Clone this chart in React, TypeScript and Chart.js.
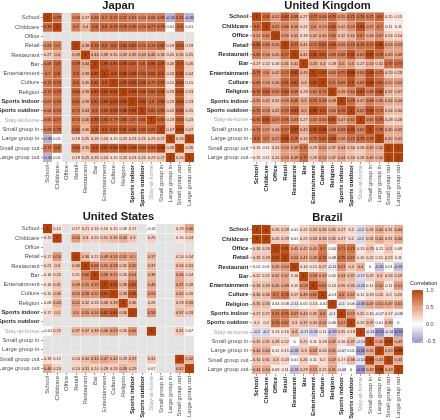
import React, { useEffect, useRef } from "react";
import { Chart, registerables } from "chart.js";

Chart.register(...registerables);

const FONT = '"Liberation Sans", Arial, Helvetica, sans-serif';

const categories = [
  "School", "Childcare", "Office", "Retail", "Restaurant", "Bar", "Entertainment",
  "Culture", "Religion", "Sports indoor", "Sports outdoor", "Stay-at-home",
  "Small group in", "Large group in", "Small group out", "Large group out",
];

const N = null;

const japanValues: (number | null)[][] = [
  [1, 0.79, N, 0.63, 0.27, 0.68, 0.7, 0.72, 0.72, 0.67, 0.64, 0.66, 0.69, -0.36, 0.71, -0.36],
  [0.79, 1, N, 0.7, 0.4, 0.8, 0.8, 0.79, 0.79, 0.76, 0.74, 0.77, 0.79, 0.01, 0.8, 0.01],
  [N, N, N, N, N, N, N, N, N, N, N, N, N, N, N, N],
  [0.63, 0.7, N, 1, 0.39, 0.79, 0.8, 0.8, 0.83, 0.82, 0.75, 0.74, 0.82, 0.19, 0.83, 0.19],
  [0.27, 0.4, N, 0.39, 1, 0.44, 0.39, 0.35, 0.39, 0.39, 0.43, 0.46, 0.36, 0.25, 0.35, 0.25],
  [0.68, 0.8, N, 0.79, 0.44, 1, 0.89, 0.85, 0.89, 0.85, 0.8, 0.88, 0.9, 0.26, 0.9, 0.26],
  [0.7, 0.8, N, 0.8, 0.39, 0.89, 1, 0.9, 0.93, 0.89, 0.84, 0.84, 0.9, 0.24, 0.91, 0.24],
  [0.72, 0.79, N, 0.8, 0.35, 0.85, 0.9, 1, 0.91, 0.92, 0.88, 0.79, 0.87, 0.15, 0.88, 0.15],
  [0.72, 0.79, N, 0.83, 0.39, 0.89, 0.93, 0.91, 1, 0.93, 0.88, 0.84, 0.91, 0.23, 0.92, 0.23],
  [0.67, 0.76, N, 0.82, 0.39, 0.85, 0.89, 0.92, 0.93, 1, 0.93, 0.8, 0.88, 0.23, 0.89, 0.23],
  [0.64, 0.74, N, 0.75, 0.43, 0.8, 0.84, 0.88, 0.88, 0.93, 1, 0.81, 0.83, 0.25, 0.84, 0.25],
  [0.66, 0.77, N, 0.74, 0.46, 0.88, 0.84, 0.79, 0.84, 0.8, 0.81, 1, 0.83, 0.23, 0.83, 0.23],
  [0.69, 0.79, N, 0.82, 0.36, 0.9, 0.9, 0.87, 0.91, 0.88, 0.83, 0.83, 1, 0.27, 0.99, 0.27],
  [-0.36, 0.01, N, 0.19, 0.25, 0.26, 0.24, 0.15, 0.23, 0.23, 0.25, 0.23, 0.27, 1, 0.26, 1],
  [0.71, 0.8, N, 0.83, 0.35, 0.9, 0.91, 0.88, 0.92, 0.89, 0.84, 0.83, 0.99, 0.26, 1, 0.26],
  [-0.36, 0.01, N, 0.19, 0.25, 0.26, 0.24, 0.15, 0.23, 0.23, 0.25, 0.23, 0.27, 1, 0.26, 1],
];

const ukValues: (number | null)[][] = [
  [1, 0.8, 0.51, 0.84, 0.69, 0.27, 0.77, 0.69, 0.79, 0.55, 0.75, 0.76, 0.71, 0.8, 0.15, 0.15],
  [0.8, 1, 0.61, 0.66, 0.56, 0.22, 0.6, 0.53, 0.82, 0.42, 0.59, 0.91, 0.57, 0.7, 0.11, 0.11],
  [0.51, 0.61, 1, 0.55, 0.45, 0.18, 0.42, 0.46, 0.65, 0.32, 0.42, 0.67, 0.44, 0.57, 0.24, 0.24],
  [0.84, 0.66, 0.55, 1, 0.77, 0.41, 0.72, 0.81, 0.84, 0.59, 0.73, 0.76, 0.77, 0.96, 0.53, 0.53],
  [0.69, 0.56, 0.45, 0.77, 1, 0.41, 0.92, 0.87, 0.69, 0.68, 0.91, 0.63, 0.97, 0.79, 0.49, 0.49],
  [0.27, 0.22, 0.18, 0.41, 0.41, 1, 0.43, 0.4, 0.28, 0.5, 0.5, 0.27, 0.42, 0.32, 0.77, 0.77],
  [0.77, 0.6, 0.42, 0.72, 0.92, 0.43, 1, 0.92, 0.65, 0.75, 0.98, 0.63, 0.93, 0.75, 0.29, 0.29],
  [0.69, 0.53, 0.46, 0.81, 0.87, 0.4, 0.92, 1, 0.71, 0.69, 0.9, 0.64, 0.96, 0.81, 0.52, 0.52],
  [0.79, 0.82, 0.65, 0.84, 0.69, 0.28, 0.65, 0.71, 1, 0.49, 0.64, 0.91, 0.68, 0.88, 0.37, 0.37],
  [0.55, 0.42, 0.32, 0.59, 0.68, 0.5, 0.75, 0.69, 0.49, 1, 0.78, 0.47, 0.69, 0.56, 0.44, 0.44],
  [0.75, 0.59, 0.42, 0.73, 0.91, 0.5, 0.98, 0.9, 0.64, 0.78, 1, 0.62, 0.92, 0.73, 0.34, 0.34],
  [0.76, 0.91, 0.67, 0.76, 0.63, 0.27, 0.63, 0.64, 0.91, 0.47, 0.62, 1, 0.65, 0.79, 0.28, 0.28],
  [0.71, 0.57, 0.44, 0.77, 0.97, 0.42, 0.93, 0.96, 0.68, 0.69, 0.92, 0.65, 1, 0.78, 0.45, 0.45],
  [0.8, 0.7, 0.57, 0.96, 0.79, 0.32, 0.75, 0.81, 0.88, 0.56, 0.73, 0.79, 0.78, 1, 0.42, 0.42],
  [0.15, 0.11, 0.24, 0.53, 0.49, 0.77, 0.29, 0.52, 0.37, 0.44, 0.34, 0.28, 0.45, 0.42, 1, 1],
  [0.15, 0.11, 0.24, 0.53, 0.49, 0.77, 0.29, 0.52, 0.37, 0.44, 0.34, 0.28, 0.45, 0.42, 1, 1],
];

const usValues: (number | null)[][] = [
  [1, 0.15, N, 0.17, 0.21, 0.16, 0.16, 0.15, 0.08, 0.17, N, -0.01, N, N, 0.19, 0.46],
  [0.15, 1, N, 0.54, 0.3, 0.25, 0.31, 0.36, 0.43, 0.3, N, 0.25, N, N, 0.15, 0.24],
  [N, N, N, N, N, N, N, N, N, N, N, N, N, N, N, N],
  [0.17, 0.54, N, 1, 0.36, 0.21, 0.49, 0.53, 0.52, 0.5, N, 0.37, N, N, 0.24, 0.24],
  [0.21, 0.3, N, 0.36, 1, 0.66, 0.55, 0.58, 0.32, 0.55, N, 0.37, N, N, 0.34, 0.31],
  [0.16, 0.25, N, 0.21, 0.66, 1, 0.59, 0.55, 0.26, 0.54, N, 0.38, N, N, 0.44, 0.24],
  [0.16, 0.31, N, 0.49, 0.55, 0.59, 1, 0.91, 0.38, 0.82, N, 0.46, N, N, 0.47, 0.28],
  [0.15, 0.36, N, 0.53, 0.58, 0.55, 0.91, 1, 0.39, 0.86, N, 0.53, N, N, 0.42, 0.26],
  [0.08, 0.43, N, 0.52, 0.32, 0.26, 0.38, 0.39, 1, 0.36, N, 0.26, N, N, 0.29, 0.39],
  [0.17, 0.3, N, 0.5, 0.55, 0.54, 0.82, 0.86, 0.36, 1, N, 0.56, N, N, 0.37, 0.29],
  [N, N, N, N, N, N, N, N, N, N, N, N, N, N, N, N],
  [-0.01, 0.25, N, 0.37, 0.37, 0.38, 0.46, 0.53, 0.26, 0.56, N, 1, N, N, 0.31, 0.07],
  [N, N, N, N, N, N, N, N, N, N, N, N, N, N, N, N],
  [N, N, N, N, N, N, N, N, N, N, N, N, N, N, N, N],
  [0.19, 0.15, N, 0.24, 0.34, 0.44, 0.47, 0.42, 0.29, 0.37, N, 0.31, N, N, 1, 0.42],
  [0.46, 0.24, N, 0.24, 0.31, 0.24, 0.28, 0.26, 0.39, 0.29, N, 0.07, N, N, 0.42, 1],
];

const brazilValues: (number | null)[][] = [
  [1, 1, 0.26, 0.29, 0.01, 0.22, 0.33, 0.36, 0.35, 0.27, 0.2, -0.2, 0.31, 0.44, 0.31, 0.44],
  [1, 1, 0.26, 0.29, 0.01, 0.22, 0.33, 0.36, 0.35, 0.27, 0.2, -0.2, 0.31, 0.44, 0.31, 0.44],
  [0.26, 0.26, 1, 0.91, 0.45, 0.42, 0.45, 0.7, 0.04, 0.71, 0.73, 0.13, 0.29, 0.11, 0.3, 0.09],
  [0.29, 0.29, 0.91, 1, 0.54, 0.47, 0.49, 0.76, 0.08, 0.75, 0.67, 0.16, 0.22, 0.15, 0.23, 0.11],
  [0.01, 0.01, 0.45, 0.54, 1, 0.16, 0.15, 0.27, -0.11, 0.57, 0.3, 0.4, 0, -0.31, 0.01, -0.31],
  [0.22, 0.22, 0.42, 0.47, 0.16, 1, 0.59, 0.49, 0.05, 0.43, 0.37, -0.17, 0.25, 0.3, 0.26, 0.29],
  [0.33, 0.33, 0.45, 0.49, 0.15, 0.59, 1, 0.65, 0.13, 0.35, 0.33, -0.24, 0.11, 0.52, 0.11, 0.51],
  [0.36, 0.36, 0.7, 0.76, 0.27, 0.49, 0.65, 1, -0.01, 0.6, 0.52, 0.11, 0.19, 0.26, 0.2, 0.25],
  [0.35, 0.35, 0.04, 0.08, -0.11, 0.05, 0.13, -0.01, 1, -0.1, 0.06, -0.33, 0.47, 0.51, 0.47, 0.51],
  [0.27, 0.27, 0.71, 0.75, 0.57, 0.43, 0.35, 0.6, -0.1, 1, 0.57, 0.25, 0.16, -0.07, 0.17, -0.08],
  [0.2, 0.2, 0.73, 0.67, 0.3, 0.37, 0.33, 0.52, 0.06, 0.57, 1, 0.19, 0.37, 0.01, 0.38, 0],
  [-0.2, -0.2, 0.13, 0.16, 0.4, -0.17, -0.24, 0.11, -0.33, 0.25, 0.19, 1, -0.14, -0.52, -0.14, -0.53],
  [0.31, 0.31, 0.29, 0.22, 0, 0.25, 0.11, 0.19, 0.47, 0.16, 0.37, -0.14, 1, 0.45, 0.99, 0.43],
  [0.44, 0.44, 0.11, 0.15, -0.31, 0.3, 0.52, 0.26, 0.51, -0.07, 0.01, -0.52, 0.45, 1, 0.43, 0.98],
  [0.31, 0.31, 0.3, 0.23, 0.01, 0.26, 0.11, 0.2, 0.47, 0.17, 0.38, -0.14, 0.99, 0.43, 1, 0.43],
  [0.44, 0.44, 0.09, 0.11, -0.31, 0.29, 0.51, 0.25, 0.51, -0.08, 0, -0.53, 0.43, 0.98, 0.43, 1],
];

const legendTicks = [1.0, 0.5, 0.0, -0.5];
const legendTickLabels = ["1.0", "0.5", "0.0", "-0.5"];
const colorLimits = [-0.53, 1];

// ---- colour scale (diverging, interpolated in CIE Lab like ggplot) ----
const HIGH = [178, 66, 12];
const LOW = [58, 60, 152];
const MID = [255, 255, 255];
const NA_COLOR = "#e3e3e3";

function toLin(c: number) {
  c /= 255;
  return c <= 0.04045 ? c / 12.92 : Math.pow((c + 0.055) / 1.055, 2.4);
}
function fromLin(c: number) {
  const v = c <= 0.0031308 ? 12.92 * c : 1.055 * Math.pow(c, 1 / 2.4) - 0.055;
  return Math.max(0, Math.min(255, Math.round(v * 255)));
}
const WX = 0.95047, WY = 1.0, WZ = 1.08883;
function fLab(t: number) {
  return t > 216 / 24389 ? Math.cbrt(t) : (24389 / 27 * t + 16) / 116;
}
function fInv(t: number) {
  const t3 = t * t * t;
  return t3 > 216 / 24389 ? t3 : (116 * t - 16) / (24389 / 27);
}
function rgbToLab(rgb: number[]) {
  const r = toLin(rgb[0]), g = toLin(rgb[1]), b = toLin(rgb[2]);
  const x = (0.4124 * r + 0.3576 * g + 0.1805 * b) / WX;
  const y = (0.2126 * r + 0.7152 * g + 0.0722 * b) / WY;
  const z = (0.0193 * r + 0.1192 * g + 0.9505 * b) / WZ;
  const fx = fLab(x), fy = fLab(y), fz = fLab(z);
  return [116 * fy - 16, 500 * (fx - fy), 200 * (fy - fz)];
}
function labToRgb(lab: number[]) {
  const fy = (lab[0] + 16) / 116;
  const fx = fy + lab[1] / 500;
  const fz = fy - lab[2] / 200;
  const x = fInv(fx) * WX, y = fInv(fy) * WY, z = fInv(fz) * WZ;
  const r = 3.2406 * x - 1.5372 * y - 0.4986 * z;
  const g = -0.9689 * x + 1.8758 * y + 0.0415 * z;
  const b = 0.0557 * x - 0.204 * y + 1.057 * z;
  return [fromLin(r), fromLin(g), fromLin(b)];
}
const HIGH_LAB = rgbToLab(HIGH);
const LOW_LAB = rgbToLab(LOW);
const MID_LAB = rgbToLab(MID);

function fillColor(v: number | null): string {
  if (v === null) return NA_COLOR;
  const t = Math.min(1, Math.abs(v));
  const end = v >= 0 ? HIGH_LAB : LOW_LAB;
  const lab = MID_LAB.map((m, i) => m + (end[i] - m) * t);
  const c = labToRgb(lab);
  return `rgb(${c[0]},${c[1]},${c[2]})`;
}

type PanelCfg = {
  title: string;
  values: (number | null)[][];
  boldUpTo: number;
  boldFrom: number;
  left: number;
  top: number;
  width: number;
  height: number;
  area: { l: number; t: number; r: number; b: number };
  legend?: boolean;
};

const panels: PanelCfg[] = [
  { title: "Japan", values: japanValues, boldFrom: 9, boldUpTo: 10, left: 0, top: 0, width: 205, height: 214, area: { l: 43, t: 13, r: 194, b: 162 } },
  { title: "United Kingdom", values: ukValues, boldFrom: 0, boldUpTo: 10, left: 200, top: 0, width: 240, height: 214, area: { l: 252, t: 12, r: 403, b: 162 } },
  { title: "United States", values: usValues, boldFrom: 9, boldUpTo: 10, left: 0, top: 207, width: 205, height: 213, area: { l: 43, t: 224, r: 194, b: 373 } },
  { title: "Brazil", values: brazilValues, boldFrom: 0, boldUpTo: 10, left: 200, top: 207, width: 240, height: 213, area: { l: 252, t: 225, r: 403, b: 374 }, legend: true },
];

const TITLE_SIZE = 11.2;
const TITLE_PAD = 1;
const LABEL_SIZE = 5.8;
const CELL_FONT = 3.9;

function tickFont(cfg: PanelCfg, i: number) {
  const bold = i >= cfg.boldFrom && i <= cfg.boldUpTo;
  return { family: FONT, size: LABEL_SIZE, weight: bold ? "bold" : "normal" } as any;
}
function tickColor(cfg: PanelCfg, i: number) {
  if (i >= cfg.boldFrom && i <= cfg.boldUpTo) return "#1f1f1f";
  if (i === 11) return "#a3a3a3";
  return "#4d4d4d";
}

function Panel({ cfg }: { cfg: PanelCfg }) {
  const ref = useRef<HTMLCanvasElement>(null);
  useEffect(() => {
    const canvas = ref.current!;
    const titleH = TITLE_SIZE * 1.0 + TITLE_PAD;
    const padTop = Math.max(0, cfg.area.t - cfg.top - titleH);
    const padRight = cfg.left + cfg.width - cfg.area.r;
    const yAxisW = cfg.area.l - cfg.left;
    const xAxisH = cfg.top + cfg.height - cfg.area.b;

    const datasets = categories.map((rowName, r) => ({
      label: rowName,
      data: categories.map(() => [r - 0.5, r + 0.5]),
      backgroundColor: cfg.values[r].map(fillColor),
      borderColor: "#ffffff",
      borderWidth: 0.3,
      borderSkipped: false,
      grouped: false,
      categoryPercentage: 1,
      barPercentage: 1,
    }));

    const cellLabels = {
      id: "cellLabels",
      afterDatasetsDraw(chart: any) {
        const ctx = chart.ctx;
        ctx.save();
        ctx.font = `${CELL_FONT}px ${FONT}`;
        ctx.textAlign = "center";
        ctx.textBaseline = "middle";
        ctx.fillStyle = "#1a1a1a";
        chart.data.datasets.forEach((_: any, r: number) => {
          const meta = chart.getDatasetMeta(r);
          meta.data.forEach((el: any, c: number) => {
            const v = cfg.values[r][c];
            if (v === null) return;
            const p = el.getProps(["x", "y", "base"], true);
            ctx.fillText(String(v), p.x, (p.y + p.base) / 2 + 0.2);
          });
        });
        ctx.restore();
      },
    };

    const colorLegend = {
      id: "colorLegend",
      afterDraw(chart: any) {
        if (!cfg.legend) return;
        const ctx = chart.ctx;
        const ox = -cfg.left;
        const oy = -cfg.top;
        const barX = 412 + ox;
        const barW = 11;
        const yTop = 290 + oy;
        const unit = 34.5;
        const yOf = (v: number) => yTop + (colorLimits[1] - v) * unit;
        const yBot = yOf(colorLimits[0]);
        ctx.save();
        const g = ctx.createLinearGradient(0, yTop, 0, yBot);
        const steps = 30;
        for (let i = 0; i <= steps; i++) {
          const v = colorLimits[1] - (i / steps) * (colorLimits[1] - colorLimits[0]);
          g.addColorStop(i / steps, fillColor(v));
        }
        ctx.fillStyle = g;
        ctx.fillRect(barX, yTop, barW, yBot - yTop);
        ctx.strokeStyle = "#ffffff";
        ctx.lineWidth = 0.6;
        ctx.font = `5.5px ${FONT}`;
        ctx.textAlign = "left";
        ctx.textBaseline = "middle";
        ctx.fillStyle = "#4d4d4d";
        legendTicks.forEach((v, i) => {
          const y = yOf(v);
          ctx.beginPath();
          ctx.moveTo(barX, y);
          ctx.lineTo(barX + barW / 5, y);
          ctx.moveTo(barX + barW, y);
          ctx.lineTo(barX + barW - barW / 5, y);
          ctx.stroke();
          ctx.fillText(legendTickLabels[i], barX + barW + 3, y);
        });
        ctx.fillStyle = "#1a1a1a";
        ctx.font = `5.6px ${FONT}`;
        ctx.fillText("Correlation", barX - 2, yTop - 7);
        ctx.restore();
      },
    };

    const chart = new Chart(canvas, {
      type: "bar",
      data: { labels: categories, datasets: datasets as any },
      options: {
        responsive: false,
        animation: false,
        events: [],
        layout: { padding: { left: 0, top: padTop, right: padRight, bottom: 0 } },
        plugins: {
          legend: { display: false },
          tooltip: { enabled: false },
          title: {
            display: true,
            text: cfg.title,
            fullSize: false,
            color: "#1a1a1a",
            font: { family: FONT, size: TITLE_SIZE, weight: "bold", lineHeight: 1 },
            padding: { top: 0, bottom: TITLE_PAD },
          },
        },
        scales: {
          x: {
            type: "category",
            offset: true,
            grid: { display: true, drawOnChartArea: false, drawTicks: true, tickLength: 2, color: "#333333", lineWidth: 0.5, offset: false },
            border: { display: false },
            ticks: {
              autoSkip: false,
              minRotation: 90,
              maxRotation: 90,
              padding: 1,
              font: (ctx: any) => tickFont(cfg, ctx.index),
              color: (ctx: any) => tickColor(cfg, ctx.index),
            },
            afterFit: (s: any) => { s.height = xAxisH; },
          },
          y: {
            type: "linear",
            min: -0.5,
            max: categories.length - 0.5,
            reverse: true,
            afterBuildTicks: (s: any) => { s.ticks = categories.map((_, i) => ({ value: i })); },
            grid: { display: true, drawOnChartArea: false, drawTicks: true, tickLength: 2, color: "#333333", lineWidth: 0.5 },
            border: { display: false },
            ticks: {
              autoSkip: false,
              padding: 1.5,
              callback: (v: any) => categories[v as number],
              font: (ctx: any) => tickFont(cfg, ctx.index),
              color: (ctx: any) => tickColor(cfg, ctx.index),
            },
            afterFit: (s: any) => { s.width = yAxisW; },
          },
        },
      } as any,
      plugins: [cellLabels, colorLegend],
    });
    return () => chart.destroy();
  }, [cfg]);
  return (
    <canvas
      ref={ref}
      width={cfg.width}
      height={cfg.height}
      style={{ position: "absolute", left: cfg.left, top: cfg.top, width: cfg.width, height: cfg.height }}
    />
  );
}

export default function App() {
  return (
    <div style={{ position: "fixed", left: 0, top: 0, width: 440, height: 420, background: "#ffffff", overflow: "hidden" }}>
      {panels.map((p) => (
        <Panel key={p.title} cfg={p} />
      ))}
    </div>
  );
}
